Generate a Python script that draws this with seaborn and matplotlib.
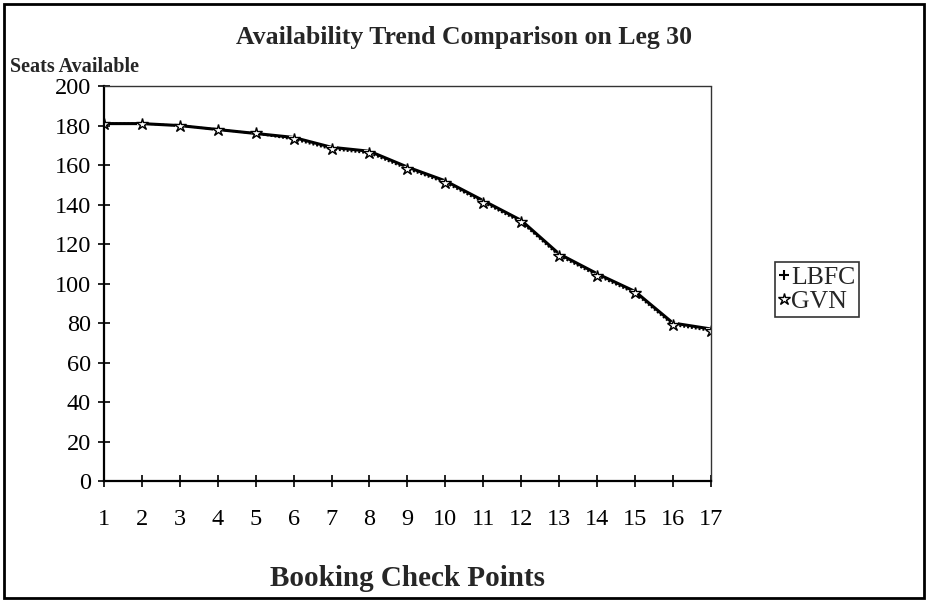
import matplotlib
matplotlib.use("Agg")
import matplotlib.pyplot as plt
import seaborn as sns
import pandas as pd
from matplotlib.patches import Rectangle
from matplotlib.lines import Line2D

checkpoints = list(range(1, 18))
lbfc = [181, 181, 180, 178, 176, 174, 169, 167, 159, 152, 142, 132, 115, 105, 96, 80, 77]
gvn = [181, 181, 180, 178, 176, 173, 168, 166, 158, 151, 141, 131, 114, 104, 95, 79, 76]
y_ticks = list(range(0, 201, 20))

df = pd.concat([
    pd.DataFrame({"cp": checkpoints, "seats": lbfc, "series": "LBFC"}),
    pd.DataFrame({"cp": checkpoints, "seats": gvn, "series": "GVN"}),
])

sns.set_theme(style="white")
plt.rcParams["font.family"] = ["Liberation Serif", "DejaVu Serif"]

fig = plt.figure(figsize=(9.28, 6.02), dpi=100)
ax = fig.add_axes([0.112, 0.201, 0.654, 0.656])

sns.lineplot(data=df[df.series == "LBFC"], x="cp", y="seats", ax=ax, color="black",
             lw=2.2, marker="+", markersize=7, mew=1.5, legend=False)
sns.lineplot(data=df[df.series == "GVN"], x="cp", y="seats", ax=ax, color="black",
             lw=1.4, linestyle=(0, (1, 1)), marker="*", markersize=9, mfc="white",
             mec="black", mew=1.0, legend=False)

ax.set_xlim(1, 17)
ax.set_ylim(0, 200)
ax.set_xticks(checkpoints)
ax.set_yticks(y_ticks)
ax.tick_params(axis="both", direction="inout", length=9, width=1.2, labelsize=17.5,
               colors="black", bottom=True, left=True, pad=5)
ax.tick_params(axis="x", pad=16)
for s in ["left", "bottom"]:
    ax.spines[s].set_linewidth(1.6)
    ax.spines[s].set_color("black")
for s in ["right", "top"]:
    ax.spines[s].set_linewidth(1.0)
    ax.spines[s].set_color("#333333")
    ax.spines[s].set_linestyle((0, (2, 1)))

ax.set_xlabel("Booking Check Points", fontsize=21, fontweight="bold", labelpad=25)
ax.set_ylabel("")
fig.text(0.5, 0.937, "Availability Trend Comparison on Leg 30", ha="center", va="center",
         fontsize=18.5, fontweight="bold")
fig.text(0.011, 0.889, "Seats Available", ha="left", va="center",
         fontsize=14.5, fontweight="bold")

handles = [
    Line2D([], [], color="black", linestyle="none", marker="+", markersize=7, mew=1.5),
    Line2D([], [], color="black", linestyle="none", marker="*", markersize=9,
           mfc="white", mec="black", mew=1.0),
]
leg = ax.legend(handles, ["LBFC", "GVN"], loc="center left", bbox_to_anchor=(1.105, 0.484),
                frameon=True, fancybox=False, edgecolor="black", fontsize=18.5,
                handlelength=0.4, handletextpad=0.1, borderpad=0.15, labelspacing=0.05,
                borderaxespad=0.0)
leg.get_frame().set_linewidth(1.2)

fig.patches.append(Rectangle((0.004, 0.006), 0.992, 0.988, transform=fig.transFigure,
                             fill=False, edgecolor="black", linewidth=2.0))

fig.savefig("out.png", dpi=100, facecolor="white")
